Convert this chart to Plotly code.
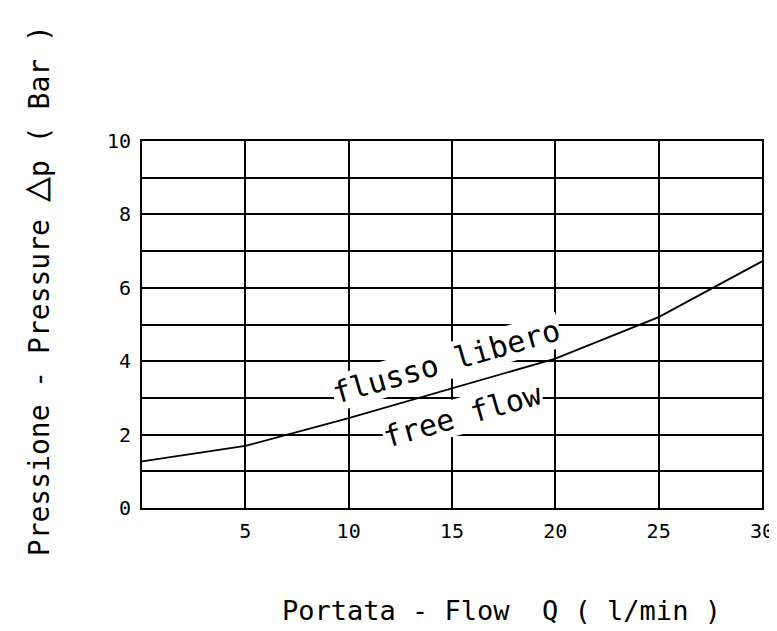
import plotly.graph_objects as go

# Data
flow_lpm = [0, 5, 10, 15, 20, 25, 30]
pressure_bar = [1.27, 1.69, 2.45, 3.25, 4.07, 5.2, 6.72]

x_tickvals = [5, 10, 15, 20, 25, 30]
x_ticktext = ["5", "10", "15", "20", "25", "30"]
y_tickvals = [0, 2, 4, 6, 8, 10]
y_ticktext = ["0", "2", "4", "6", "8", "10"]

label_upper = "flusso libero"
label_lower = "free flow"
x_title = "Portata - Flow  Q ( l/min )"
y_title = "Pressione - Pressure <span style='font-size:42px'>△</span>p ( Bar )"

FONT = "DejaVu Sans Mono"

fig = go.Figure()
fig.add_trace(go.Scatter(
    x=flow_lpm, y=pressure_bar, mode="lines",
    line=dict(color="black", width=1.8),
    showlegend=False, hoverinfo="skip",
))

axis_common = dict(
    showline=True, linecolor="black", linewidth=2, mirror=True,
    showgrid=True, gridcolor="black", gridwidth=2,
    zeroline=False, ticks="", automargin=False,
    tickfont=dict(family=FONT, size=20, color="black"),
)

fig.update_xaxes(range=[0, 30], tickvals=x_tickvals, ticktext=x_ticktext,
                 ticklabelstandoff=4, **axis_common)
fig.update_yaxes(range=[0, 10], tickvals=y_tickvals, ticktext=y_ticktext,
                 ticklabelstandoff=5,
                 minor=dict(dtick=1, showgrid=True, gridcolor="black", gridwidth=2),
                 **axis_common)

fig.add_annotation(x=14.75, y=3.98, text=label_upper, showarrow=False,
                   textangle=-16, font=dict(family=FONT, size=30, color="black"),
                   bgcolor="white", borderpad=0)
fig.add_annotation(x=15.5, y=2.52, text=label_lower, showarrow=False,
                   textangle=-16, font=dict(family=FONT, size=30, color="black"),
                   bgcolor="white", borderpad=0)

fig.add_annotation(xref="paper", yref="paper", x=0.58, y=-0.278,
                   xanchor="center", yanchor="middle",
                   text=x_title, showarrow=False,
                   font=dict(family=FONT, size=27, color="black"))
fig.add_annotation(xref="paper", yref="paper", x=-0.174, y=0.591,
                   xanchor="center", yanchor="middle",
                   text=y_title, showarrow=False, textangle=-90,
                   font=dict(family=FONT, size=28, color="black"))

# the page body adds an 8px offset, so the figure is sized to fit the window
fig.update_layout(
    width=769, height=623,
    margin=dict(l=134, r=15, t=133, b=123),
    paper_bgcolor="white", plot_bgcolor="white",
    showlegend=False,
)

fig.write_html("out.html")
